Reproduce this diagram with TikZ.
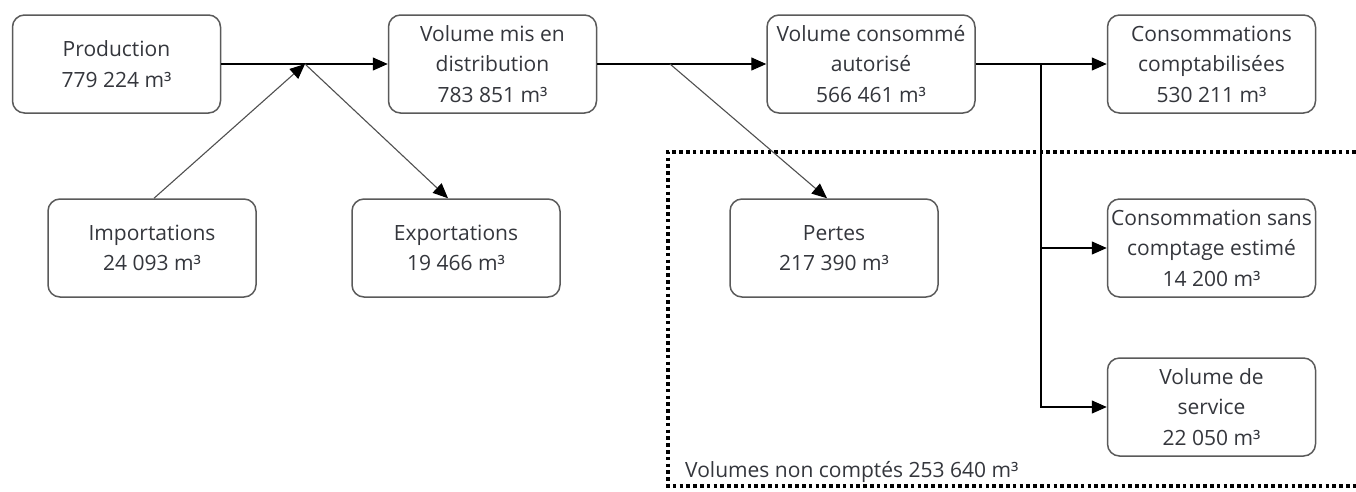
\documentclass[tikz,border=0pt]{standalone}
\usepackage{fontspec}
\setmainfont{Open Sans}
\usetikzlibrary{arrows.meta}
\definecolor{txt}{RGB}{52,54,60}
\definecolor{bord}{RGB}{90,90,90}
\definecolor{diag}{RGB}{80,80,80}
\tikzset{
  box/.style={draw=bord, line width=1.5pt, rounded corners=12pt, minimum width=208pt, minimum height=98pt,
    inner sep=0pt, align=center, text=txt, font=\fontsize{21}{30.5}\selectfont},
  conn/.style={draw=black, line width=1.3pt, -{Triangle[length=15pt,width=13pt]}},
  plain/.style={draw=black, line width=1.3pt},
  dconn/.style={draw=diag, line width=1.1pt, -{Triangle[length=15pt,width=13pt,fill=black,color=black]}},
  dotbox/.style={draw=black, line width=4pt, dash pattern=on 3.6pt off 3.2pt},
  lbl/.style={text=txt, font=\fontsize{21}{30}\selectfont, inner sep=0pt}
}
\begin{document}
\begin{tikzpicture}[x=1pt,y=-1pt]
\useasboundingbox (0,0) rectangle (1356,491);
\fill[white] (0,0) rectangle (1356,491);
% dotted region
\draw[dotbox] (1356,152) -- (668,152) -- (668,486) -- (1356,486);
\node[lbl, anchor=base west] (nc) at (685,477) {Volumes non comptés 253 640 m³};
% boxes
\node[box] (prod) at (116.5,64) {Production\\779 224 m³};
\node[box] (dist) at (492.5,64) {Volume mis en\\distribution\\783 851 m³};
\node[box] (cons) at (871,64) {Volume consommé\\autorisé\\566 461 m³};
\node[box] (compt) at (1211.5,64) {Consommations\\comptabilisées\\530 211 m³};
\node[box] (imp) at (152,248) {Importations\\24 093 m³};
\node[box] (exp) at (456,248) {Exportations\\19 466 m³};
\node[box] (pert) at (834,248) {Pertes\\217 390 m³};
\node[box] (sans) at (1211.5,248) {Consommation sans\\comptage estimé\\14 200 m³};
\node[box] (serv) at (1211.5,407) {Volume de\\service\\22 050 m³};
% junctions
\coordinate (j1) at (305,64);
\coordinate (j2) at (670,64);
\coordinate (j3) at (1041,64);
% connectors
\draw[conn] (prod.east) -- (dist.west);
\draw[dconn] ([xshift=2pt]imp.north) -- (j1);
\draw[dconn] (j1) -- ([xshift=-8pt]exp.north);
\draw[conn] (dist.east) -- (cons.west);
\draw[dconn] (j2) -- ([xshift=-7pt]pert.north);
\draw[conn] (cons.east) -- (compt.west);
\draw[conn] (j3) |- (sans.west);
\draw[conn] (j3) |- (serv.west);
\end{tikzpicture}
\end{document}
